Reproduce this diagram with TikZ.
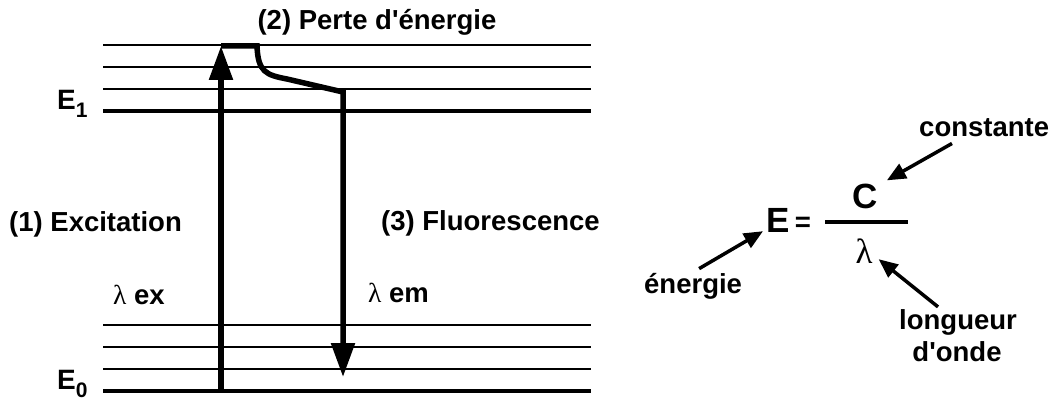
\documentclass[tikz,border=0pt]{standalone}
\usepackage{fontspec}
\setmainfont{Liberation Sans}
\newfontfamily\grkfont{Liberation Serif}
\usetikzlibrary{arrows.meta}

\tikzset{
  level/.style={line width=2pt},
  ground/.style={line width=4pt},
  jump/.style={line width=5.5pt, line join=miter, -{Triangle[length=34pt,width=23pt]}},
  ptr/.style={line width=3.5pt, -{Triangle[length=19pt,width=16pt]}},
  lbl/.style={inner sep=0pt, font=\fontsize{27.5}{30}\selectfont\bfseries},
  big/.style={inner sep=0pt, font=\fontsize{35}{38}\selectfont\bfseries},
}

\begin{document}
\begin{tikzpicture}[x=1pt, y=-1pt]
    \useasboundingbox (0,0) rectangle (1052,403);

    % niveaux
    \foreach \y in {45,67,89,325,347,369}
        \draw[level] (103,\y) -- (591,\y);
    \draw[ground] (103,111) -- (591,111);
    \draw[ground] (103,391) -- (591,391);

    \node[lbl, font=\fontsize{28}{30}\selectfont\bfseries, anchor=base west] (eOne) at (57,110)
        {E\raisebox{-8pt}{\fontsize{21}{23}\selectfont 1}};
    \node[lbl, font=\fontsize{28}{30}\selectfont\bfseries, anchor=base west] (eZero) at (57,389)
        {E\raisebox{-8pt}{\fontsize{21}{23}\selectfont 0}};

    % transitions
    \coordinate (exBot) at (221,389);
    \coordinate (exTop) at (221,46);
    \coordinate (emBot) at (343,377);
    \draw[jump] (exBot) -- (exTop);
    \draw[jump] (exTop) -- (257,46) .. controls (258,72) and (266,75) .. (287,79)
        -- (343,92) -- (emBot);

    \node[lbl, anchor=base] (perte) at (377,30) {(2) Perte d\textquotesingle énergie};
    \node[lbl, anchor=base west] (excit) at (9,232) {(1) Excitation};
    \node[lbl, anchor=base west] (fluo) at (381,231) {(3) Fluorescence};
    \node[lbl, anchor=base west] (lamEx) at (113,305) {{\grkfont\mdseries λ} ex};
    \node[lbl, anchor=base west] (lamEm) at (368,302) {{\grkfont\mdseries λ} em};

    % E = C / lambda
    \node[big, anchor=base west] (bigE) at (766,233) {E};
    \node[lbl, anchor=center] (eq) at (803,224) {=};
    \draw[line width=3.5pt] (825,222) -- (908,222);
    \node[big, anchor=base] (numC) at (865,209) {C};
    \node[big, font=\fontsize{35}{38}\selectfont\grkfont, anchor=base] (lam) at (864,264) {λ};

    \node[lbl, anchor=base west] (cst) at (919,137) {constante};
    \node[lbl, anchor=base west] (nrg) at (644,294) {énergie};
    \node[lbl, anchor=base] (lng) at (958,329) {longueur};
    \node[lbl, anchor=base] (onde) at (957,361) {d\textquotesingle onde};

    \draw[ptr] ([shift={(33,6)}]cst.south west) -- ([shift={(9,-4)}]numC.north east);
    \draw[ptr] ([shift={(6,-5)}]nrg.north) -- ([shift={(-3,-2)}]bigE.south west);
    \draw[ptr] ([shift={(-20,-2)}]lng.north) -- ([shift={(6,-5)}]lam.south east);
\end{tikzpicture}
\end{document}
